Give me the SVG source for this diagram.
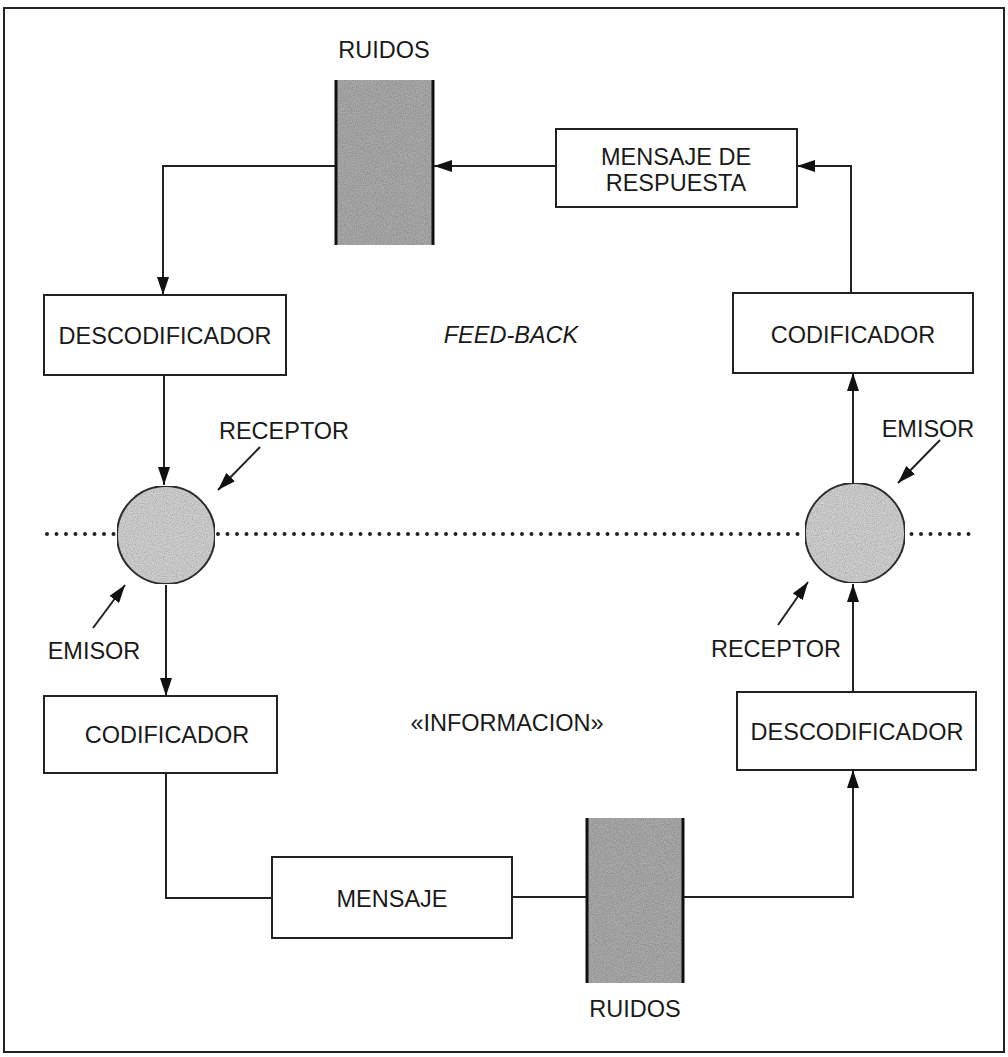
<svg xmlns="http://www.w3.org/2000/svg" width="1008" height="1057" viewBox="0 0 1008 1057">
<style>
.box{fill:#fff;stroke:#222;stroke-width:2}
.t{font-family:"Liberation Sans",Arial,sans-serif;font-size:23.5px;fill:#1a1a1a;text-anchor:middle}
.c{fill:none;stroke:#222;stroke-width:2}
.noise{fill:#ababab}
.edge{stroke:#111;stroke-width:3}
.circ{fill:#d2d2d2;stroke:#333;stroke-width:2}
</style>
<defs>
<marker id="ah" markerWidth="18" markerHeight="12" refX="18" refY="6" orient="auto" markerUnits="userSpaceOnUse">
<path d="M0,0 L18,6 L0,12 z" fill="#111"/>
</marker>
<filter id="grain" x="0" y="0" width="100%" height="100%">
<feTurbulence type="fractalNoise" baseFrequency="0.9" numOctaves="2" seed="3" result="n"/>
<feColorMatrix in="n" type="matrix" values="0 0 0 0 0  0 0 0 0 0  0 0 0 0 0  0 0 0 0.7 -0.22" result="a"/>
<feComposite in="a" in2="SourceGraphic" operator="in" result="d"/>
<feMerge><feMergeNode in="SourceGraphic"/><feMergeNode in="d"/></feMerge>
</filter>
</defs>
<rect x="0" y="0" width="1008" height="1057" fill="#fff"/>
<rect id="frame" x="4" y="8" width="1000" height="1044" fill="none" stroke="#222" stroke-width="2"/>

<line id="divider" x1="47" y1="534" x2="976" y2="534" stroke="#222" stroke-width="4" stroke-linecap="round" stroke-dasharray="0 9.5"/>

<g id="connectors">
<path class="c" d="M556,166 H434" marker-end="url(#ah)"/>
<path class="c" d="M336,166 H163 V295" marker-end="url(#ah)"/>
<path class="c" d="M164,375 V485" marker-end="url(#ah)"/>
<path class="c" d="M166,585 V696" marker-end="url(#ah)"/>
<path class="c" d="M166,773 V898 H272"/>
<path class="c" d="M512,897 H587"/>
<path class="c" d="M683,897 H853 V770" marker-end="url(#ah)"/>
<path class="c" d="M853,692 V584" marker-end="url(#ah)"/>
<path class="c" d="M853,484 V373" marker-end="url(#ah)"/>
<path class="c" d="M851,293 V166 H797" marker-end="url(#ah)"/>
<path class="c" d="M260,447 L218,490" marker-end="url(#ah)"/>
<path class="c" d="M93,628 L125,585" marker-end="url(#ah)"/>
<path class="c" d="M940,440 L898,483" marker-end="url(#ah)"/>
<path class="c" d="M778,625 L808,582" marker-end="url(#ah)"/>
</g>

<g id="ruidos-top">
<text class="t" x="384" y="58">RUIDOS</text>
<rect class="noise" x="336" y="80" width="97" height="165" filter="url(#grain)"/>
<line class="edge" x1="336" y1="80" x2="336" y2="245"/>
<line class="edge" x1="433" y1="80" x2="433" y2="245"/>
</g>

<g id="mensaje-respuesta">
<rect class="box" x="556" y="129" width="241" height="78"/>
<text class="t" x="676" y="165">MENSAJE DE</text>
<text class="t" x="676" y="191">RESPUESTA</text>
</g>

<g id="descodificador-l">
<rect class="box" x="44" y="295" width="242" height="80"/>
<text class="t" x="165" y="344">DESCODIFICADOR</text>
</g>

<g id="feedback">
<text class="t" x="511" y="343" font-style="italic">FEED-BACK</text>
</g>

<g id="codificador-r">
<rect class="box" x="733" y="293" width="240" height="80"/>
<text class="t" x="853" y="343">CODIFICADOR</text>
</g>

<g id="circle-l">
<circle class="circ" cx="166" cy="535" r="49" filter="url(#grain)"/>
<text class="t" x="284" y="439">RECEPTOR</text>
<text class="t" x="94" y="659">EMISOR</text>
</g>

<g id="circle-r">
<circle class="circ" cx="855" cy="533" r="50" filter="url(#grain)"/>
<text class="t" x="928" y="437">EMISOR</text>
<text class="t" x="776" y="657">RECEPTOR</text>
</g>

<g id="codificador-l">
<rect class="box" x="44" y="696" width="233" height="77"/>
<text class="t" x="167" y="743">CODIFICADOR</text>
</g>

<g id="informacion">
<text class="t" x="507" y="731">«INFORMACION»</text>
</g>

<g id="descodificador-r">
<rect class="box" x="737" y="692" width="239" height="78"/>
<text class="t" x="857" y="740">DESCODIFICADOR</text>
</g>

<g id="mensaje">
<rect class="box" x="272" y="857" width="240" height="81"/>
<text class="t" x="392" y="907">MENSAJE</text>
</g>

<g id="ruidos-bottom">
<rect class="noise" x="587" y="818" width="96" height="165" filter="url(#grain)"/>
<line class="edge" x1="587" y1="818" x2="587" y2="983"/>
<line class="edge" x1="683" y1="818" x2="683" y2="983"/>
<text class="t" x="635" y="1017">RUIDOS</text>
</g>
</svg>
